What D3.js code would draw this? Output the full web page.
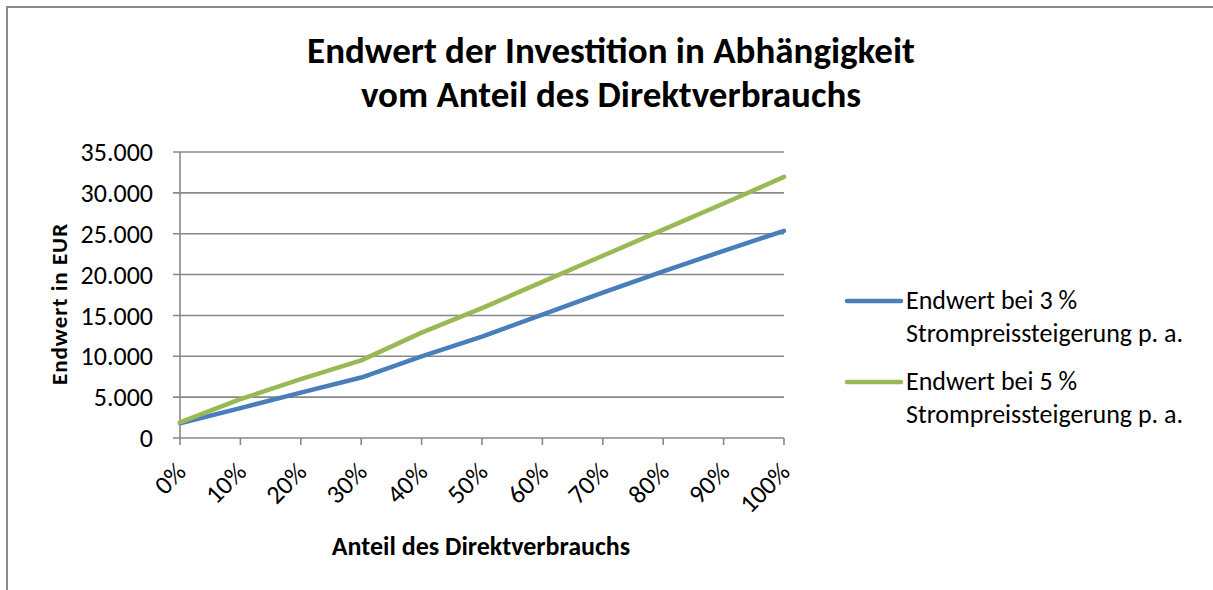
<!DOCTYPE html>
<html><head><meta charset="utf-8">
<script src="https://cdn.jsdelivr.net/npm/d3@7"></script>
<style>
html,body{margin:0;padding:0;background:#fff;}
svg{display:block;}
text{font-family:Carlito,Lato,"Open Sans",sans-serif;fill:#000;}
</style></head>
<body>
<script>
const categories = ["0%","10%","20%","30%","40%","50%","60%","70%","80%","90%","100%"];
const series3 = [1800, 3650, 5550, 7400, 10000, 12400, 15100, 17800, 20400, 22900, 25350];
const series5 = [1900, 4750, 7200, 9500, 12900, 15900, 19100, 22300, 25500, 28700, 31950];
const seriesNames = [["Endwert bei 3 %","Strompreissteigerung p. a."],["Endwert bei 5 %","Strompreissteigerung p. a."]];
const yTicks = [0,5000,10000,15000,20000,25000,30000,35000];
const titleLines = ["Endwert der Investition in Abhängigkeit","vom Anteil des Direktverbrauchs"];
const yTitle = "Endwert in EUR";
const xTitle = "Anteil des Direktverbrauchs";

const W = 1213, H = 590;
const svg = d3.select("body").append("svg").attr("width", W).attr("height", H);
const colors = ["#4A7EBB", "#98B954"];

// chart border (left + top visible)
svg.append("path").attr("d", `M7,${H} L7,7 L${W},7`).attr("fill","none").attr("stroke","#8a8a8a").attr("stroke-width",2);

const L = 180, R = 784, T = 152, B = 438;
const x = d3.scaleLinear().domain([0, categories.length-1]).range([L, R]);
const y = d3.scaleLinear().domain([0, 35000]).range([B, T]);

// gridlines
svg.append("g").selectAll("line").data(yTicks).join("line")
  .attr("x1", L-7).attr("x2", R).attr("y1", d=>y(d)).attr("y2", d=>y(d))
  .attr("stroke","#888").attr("stroke-width",1.6);

// y axis line
svg.append("line").attr("x1",L).attr("x2",L).attr("y1",T).attr("y2",B).attr("stroke","#888").attr("stroke-width",1.6);
// x ticks
svg.append("g").selectAll("line").data(categories).join("line")
  .attr("x1",(d,i)=>x(i)).attr("x2",(d,i)=>x(i)).attr("y1",B).attr("y2",B+7)
  .attr("stroke","#888").attr("stroke-width",1.6);

const fmt = d3.formatLocale({decimal:",", thousands:".", grouping:[3], currency:["","€"]}).format(",d");
svg.append("g").selectAll("text").data(yTicks).join("text")
  .attr("x", L-27).attr("y", d=>y(d)).attr("dy","0.35em").attr("text-anchor","end")
  .style("font-size","26px").text(d=>fmt(d));

svg.append("g").selectAll("text").data(categories).join("text")
  .attr("transform",(d,i)=>`translate(${x(i)+1},${B+29}) rotate(-45)`)
  .attr("text-anchor","end").attr("dy","0.35em")
  .style("font-size","26px").text(d=>d);

// lines
const line = d3.line().x((d,i)=>x(i)).y(d=>y(d));
[series3, series5].forEach((s,k)=>{
  svg.append("path").datum(s).attr("d", line).attr("fill","none")
    .attr("stroke", colors[k]).attr("stroke-width",4.5).attr("stroke-linecap","round").attr("stroke-linejoin","round");
});

// title
svg.append("text").attr("x", 611).attr("text-anchor","middle").style("font-size","37px").style("font-weight","bold")
  .selectAll("tspan").data(titleLines).join("tspan").attr("x",611).attr("y",(d,i)=>63+i*44).text(d=>d);

// axis titles
svg.append("text").attr("transform",`translate(67,${304}) rotate(-90)`).attr("text-anchor","middle")
  .style("font-size","23px").style("font-weight","bold").style("letter-spacing","1px").text(yTitle);
svg.append("text").attr("x",481).attr("y",555).attr("text-anchor","middle")
  .style("font-size","26px").style("font-weight","bold").text(xTitle);

// legend
const lg = svg.append("g");
seriesNames.forEach((nm,k)=>{
  const ly = 301 + k*81;
  lg.append("line").attr("x1",847).attr("x2",901).attr("y1",ly).attr("y2",ly)
    .attr("stroke",colors[k]).attr("stroke-width",4.5).attr("stroke-linecap","round");
  lg.append("text").attr("x",906).style("font-size","26px")
    .selectAll("tspan").data(nm).join("tspan").attr("x",906).attr("y",(d,i)=>ly+8+i*33).text(d=>d);
});
</script>
</body></html>
